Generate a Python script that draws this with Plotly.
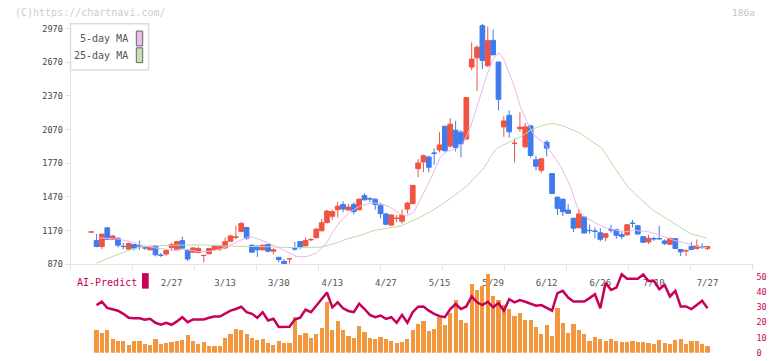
import plotly.graph_objects as go

# ---------------- data ----------------
opens = [1157,1081,1028,1195,1093,1101,1030,1005,1046,1035,1018,999,1034,951,961,1019,999,1081,993,978,
         975,948,964,1002,1005,1016,1075,1112,1163,1198,1040,1031,999,1046,987,932,896,919,1008,1072,
         1034,1089,1107,1169,1242,1298,1356,1403,1353,1403,1356,1482,1454,1450,1397,1318,1219,1279,1254,1362,
         1412,1722,1781,1825,1861,1889,2100,1924,2065,2047,1986,2627,2709,2996,2639,2865,2671,2094,2197,1947,
         2077,1916,2103,1801,1708,1957,1678,1468,1450,1353,1280,1195,1292,1172,1166,1151,1110,1178,1178,1133,
         1133,1236,1213,1116,1069,1099,1099,1078,1049,1098,1002,990,1028,1011,1026,1011]
highs = [1158,1139,1139,1195,1131,1110,1063,1063,1046,1081,1034,1028,1040,970,999,1063,1078,1116,1005,1022,
         1028,949,1016,1043,1043,1107,1134,1213,1248,1198,1046,1040,1046,1052,1011,932,917,920,1069,1072,
         1110,1104,1195,1274,1356,1356,1426,1432,1409,1423,1456,1503,1468,1456,1420,1327,1315,1309,1359,1426,
         1573,1807,1848,1837,1901,2047,2100,2170,2147,2065,2355,2847,2821,3011,2988,2961,2671,2188,2241,1992,
         2223,2129,2112,1837,1810,1977,1678,1473,1456,1406,1286,1362,1292,1222,1198,1192,1142,1222,1186,1172,
         1227,1265,1216,1122,1133,1116,1213,1093,1107,1098,1002,1002,1069,1090,1057,1031]
lows = [1157,1022,1005,1087,1087,1022,1005,999,993,999,999,993,940,934,946,993,993,1005,899,970,
        970,888,958,993,987,1005,1069,1093,1157,1087,975,934,993,975,958,888,870,876,993,1005,
        1028,1075,1101,1163,1233,1268,1286,1333,1350,1315,1350,1438,1426,1356,1277,1216,1213,1245,1233,1321,
        1403,1646,1690,1690,1757,1866,1866,1913,1875,1822,1977,2598,2411,2610,2627,2736,2241,2006,1998,1778,
        2050,1907,1819,1708,1684,1831,1500,1309,1298,1318,1157,1192,1148,1142,1104,1075,1075,1151,1098,1093,
        1122,1198,1139,1063,1049,1078,1090,1040,1040,1005,943,943,996,1002,1005,996]
closes = [1158,1028,1139,1093,1122,1040,1028,1055,1014,1034,1016,1025,955,949,993,1046,1072,1014,917,1016,
          1010,949,1010,1034,1034,1072,1122,1113,1233,1101,978,999,1040,987,999,911,874,920,1007,1019,
          1081,1090,1183,1239,1344,1339,1388,1362,1380,1339,1450,1444,1452,1403,1321,1227,1309,1280,1309,1415,
          1573,1772,1837,1734,1859,1933,1883,2118,1910,1942,2355,2698,2803,2686,2862,2736,2340,2147,2050,1948,
          2091,2094,1839,1743,1810,1904,1500,1368,1339,1324,1192,1318,1148,1170,1164,1093,1142,1176,1128,1119,
          1222,1235,1139,1066,1101,1097,1097,1055,1101,1011,981,991,1002,1034,1024,1028]

# volume (thousand shares)
volume = [0,690,600,690,420,360,370,250,360,360,270,240,420,280,300,320,360,380,540,360,
          260,330,210,210,210,450,570,720,690,570,450,390,410,300,250,360,300,300,1090,540,
          600,450,570,750,1530,690,960,690,510,450,810,630,450,420,480,420,360,300,330,410,
          690,870,960,660,720,1090,840,1220,1590,990,900,2100,1920,2040,2390,1740,1600,1440,1320,1110,
          1200,990,990,780,570,830,520,1350,900,610,870,690,570,360,480,420,360,410,360,320,
          330,360,320,320,300,280,390,300,270,390,410,270,360,360,270,220]

# AI-Predict score (right axis)
ai_score = [31.5,33.7,29.6,28.5,27.8,25.7,23.1,22.8,22.8,21.8,22.4,19.8,18.5,19.8,18.5,20.7,23.5,20.2,22.0,
            22.0,22.0,23.1,23.9,23.9,26.1,27.8,28.9,30.4,26.8,25.7,23.1,26.8,21.3,22.4,17.0,17.2,17.2,22.0,23.1,
            28.5,26.8,31.1,35.4,39.8,30.0,33.3,29.4,27.6,26.8,32.4,28.9,25.0,23.5,24.6,22.4,23.5,19.8,25.0,19.8,
            26.8,30.4,30.6,27.8,25.7,24.2,23.5,28.9,32.2,28.9,30.6,37.2,33.3,31.5,33.7,30.0,32.8,27.8,35.4,33.3,
            34.8,33.7,32.2,31.1,31.5,29.4,27.8,39.4,40.9,36.5,33.9,33.9,33.9,36.1,38.7,29.4,46.3,41.5,43.0,51.9,
            48.9,48.9,48.9,51.7,47.4,47.6,42.0,44.8,37.2,40.9,30.6,30.6,28.9,31.5,34.3,29.4]

# moving averages (position in trading days, price)
ma5_pos = [1,5.3,7.2,9,11.6,13.4,15.3,17.2,18.5,20.3,22,24,25.9,27.7,29.6,30.8,32.7,34.6,36.4,38.3,40.2,42,
           43.9,45.1,46.4,48.3,50,52,53.9,55.7,57.6,58.8,60.2,61.4,63.3,65.2,66.4,68.3,69.5,70.8,72,73.9,75.1,
           76.1,77,78.9,80.1,81.3,82.6,84.5,85.7,87.6,89.4,90.7,91.9,93.8,95.6,97.5,99.4,101.2,103.7,106.2,
           108.7,111.2,113,115]
ma5_val = [1107,1093,1072,1043,1019,1005,993,1005,993,981,984,1005,1037,1081,1116,1101,1066,1028,984,940,937,970,
           1057,1160,1248,1336,1385,1415,1415,1380,1320,1300,1333,1450,1626,1831,1875,1904,1954,2094,2270,2563,2709,
           2753,2695,2460,2270,2138,2021,1948,1875,1743,1567,1377,1303,1245,1201,1180,1157,1172,1163,1128,
           1084,1055,1031,1016]
ma25_pos = [1,4.1,7.2,9,11.6,15.3,17.8,21,24,27,30.2,34,36.4,39.5,42.7,45,47.6,50,52.6,55,57.7,60.8,63.9,67,
            70.1,73.3,74.6,75.7,77.6,80.1,82.6,85.1,86.3,88.2,91.3,93.8,95.3,97.5,100,102.5,105,107.5,110,111.8,114.9]
ma25_val = [882,940,999,1022,1034,1040,1043,1043,1034,1031,1034,1025,1019,1019,1022,1049,1093,1125,1169,1189,1210,1274,1356,1456,
            1567,1728,1831,1904,1948,2006,2080,2118,2124,2100,2036,1954,1904,1743,1567,1450,1347,1274,1201,1142,1104]

tick_idx = [15,25,35,45,55,65,75,85,95,105,115]
tick_text = ["2/27","3/13","3/30","4/13","4/27","5/15","5/29","6/12","6/26","7/10","7/27"]
price_ticks = [870,1170,1470,1770,2070,2370,2670,2970]
ai_ticks = [0,10,20,30,40,50]

idx = list(range(len(closes)))

# ---------------- layout helpers ----------------
W, H = 772, 361
def px(x): return x / W
def py(y): return (H - y) / H

RED = "#f25340"
BLUE = "#3f7bec"
CRIMSON = "#c8005a"
ORANGE = "#f3973f"
PINK = "#e9b6ea"
GREEN = "#b6dca6"
MONO = "DejaVu Sans Mono"

fig = go.Figure()

fig.add_trace(go.Candlestick(
    x=idx, open=opens, high=highs, low=lows, close=closes,
    increasing=dict(line=dict(color=RED, width=1), fillcolor=RED),
    decreasing=dict(line=dict(color=BLUE, width=1), fillcolor=BLUE),
    whiskerwidth=0, hoverinfo="skip", showlegend=False, xaxis="x", yaxis="y"))

fig.add_trace(go.Scatter(x=ma25_pos, y=ma25_val, mode="lines", line=dict(color=GREEN, width=1),
                         hoverinfo="skip", showlegend=False, xaxis="x", yaxis="y"))
fig.add_trace(go.Scatter(x=ma5_pos, y=ma5_val, mode="lines", line=dict(color=PINK, width=1),
                         hoverinfo="skip", showlegend=False, xaxis="x", yaxis="y"))

# dummy trace to carry the grid tick axis
fig.add_trace(go.Scatter(x=[0, 11], y=[None, None], mode="lines", hoverinfo="skip",
                         showlegend=False, xaxis="x3", yaxis="y"))

fig.add_trace(go.Bar(x=idx, y=volume, marker=dict(color=ORANGE, line=dict(width=0)), width=0.78,
                     hoverinfo="skip", showlegend=False, xaxis="x2", yaxis="y2"))
fig.add_trace(go.Scatter(x=idx[1:], y=ai_score, mode="lines", line=dict(color=CRIMSON, width=2.5),
                         hoverinfo="skip", showlegend=False, xaxis="x2", yaxis="y3"))

dom_x = [px(70.5), px(752.5)]
xr = [-3.86, 123.4]

fig.update_layout(
    width=W, height=H, margin=dict(l=0, r=0, t=0, b=0),
    paper_bgcolor="white", plot_bgcolor="white",
    boxgap=0.12, boxgroupgap=0, bargap=0,
    xaxis=dict(domain=dom_x, range=xr, anchor="y", showline=True, linecolor="#e2e2e2", linewidth=1,
               tickmode="array", tickvals=tick_idx, ticktext=tick_text, ticks="",
               tickfont=dict(family=MONO, size=9, color="#555"), ticklabelstandoff=10,
               showgrid=False, zeroline=False, rangeslider=dict(visible=False), fixedrange=True),
    xaxis2=dict(domain=dom_x, range=xr, anchor="y2", visible=False, fixedrange=True),
    xaxis3=dict(domain=dom_x, range=[0, 11], overlaying="x", anchor="y", side="bottom",
                tickmode="array", tickvals=list(range(12)), ticks="outside", ticklen=5,
                tickcolor="#e2e2e2", tickwidth=1, showticklabels=False, showline=False,
                showgrid=False, zeroline=False, fixedrange=True),
    yaxis=dict(domain=[py(268), py(22)], range=[870, 3031], anchor="x", showline=True,
               linecolor="#e2e2e2", linewidth=1, tickmode="array", tickvals=price_ticks,
               ticks="outside", ticklen=5, tickcolor="#e2e2e2",
               tickfont=dict(family=MONO, size=8.5, color="#444"), showgrid=False, zeroline=False,
               fixedrange=True),
    yaxis2=dict(domain=[py(357.7), py(273.3)], range=[0, 2530], anchor="x2", visible=False,
                fixedrange=True),
    yaxis3=dict(domain=[py(357.7), py(273.3)], range=[0, 55], anchor="x2", overlaying="y2",
                side="right", tickmode="array", tickvals=ai_ticks, ticks="", showline=False,
                ticklabelstandoff=3,
                tickfont=dict(family=MONO, size=8.5, color=CRIMSON), showgrid=False,
                zeroline=False, fixedrange=True),
    showlegend=False,
)

shapes = [
    dict(type="rect", xref="paper", yref="paper", x0=px(70.5), x1=px(148.5), y0=py(71), y1=py(24),
         line=dict(color="#dddddd", width=1.5), fillcolor="white", layer="above"),
    dict(type="rect", xref="paper", yref="paper", x0=px(136.3), x1=px(142.7), y0=py(46.5), y1=py(31.5),
         line=dict(color="#666", width=1), fillcolor="#ecbdec", layer="above"),
    dict(type="rect", xref="paper", yref="paper", x0=px(136.3), x1=px(142.7), y0=py(63.5), y1=py(48.5),
         line=dict(color="#666", width=1), fillcolor="#c2e0b4", layer="above"),
    dict(type="rect", xref="paper", yref="paper", x0=px(142), x1=px(148.7), y0=py(292.7), y1=py(277),
         line=dict(width=0), fillcolor=CRIMSON, layer="above"),
]
annotations = [
    dict(text="(C)https://chartnavi.com/", xref="paper", yref="paper", x=px(13), y=py(12.5),
         xanchor="left", yanchor="middle", showarrow=False, font=dict(family=MONO, size=10, color="#cccccc")),
    dict(text="186a", xref="paper", yref="paper", x=px(757), y=py(13), xanchor="right", yanchor="middle",
         showarrow=False, font=dict(family=MONO, size=9.5, color="#c4c4c4")),
    dict(text="5-day MA", xref="paper", yref="paper", x=px(130), y=py(39), xanchor="right",
         yanchor="middle", showarrow=False, font=dict(family=MONO, size=10, color="#555")),
    dict(text="25-day MA", xref="paper", yref="paper", x=px(130), y=py(56.5), xanchor="right",
         yanchor="middle", showarrow=False, font=dict(family=MONO, size=10, color="#555")),
    dict(text="AI-Predict", xref="paper", yref="paper", x=px(74.5), y=py(286), xanchor="left",
         yanchor="middle", showarrow=False, font=dict(family=MONO, size=10, color=CRIMSON)),
]
fig.update_layout(shapes=shapes, annotations=annotations)

fig.write_html("out.html", config=dict(displayModeBar=False, staticPlot=True))
